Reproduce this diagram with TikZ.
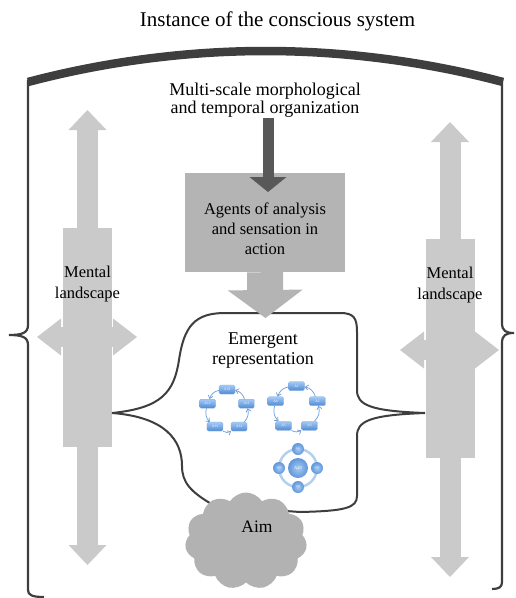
\documentclass[tikz,border=0pt]{standalone}
\usepackage{fontspec}
\setmainfont{Liberation Serif}
\usetikzlibrary{positioning,arrows.meta,shapes.symbols,calc}

\definecolor{landgray}{RGB}{202,202,202}
\definecolor{boxgray}{RGB}{180,180,180}
\definecolor{orgdark}{RGB}{88,88,88}
\definecolor{framegray}{RGB}{62,62,62}
\definecolor{cloudgray}{RGB}{178,178,178}
\definecolor{agtop}{RGB}{165,202,245}
\definecolor{agbot}{RGB}{78,138,212}
\definecolor{ringblue}{RGB}{180,208,240}

\tikzset{
  txt/.style={align=center, inner sep=0pt},
  frame/.style={draw=framegray, line width=2.2pt},
  landrect/.style={fill=landgray, minimum width=49pt, minimum height=219pt, inner sep=0pt},
  landarrow/.style={draw=landgray, line width=21pt,
    {Triangle[width=38pt,length=20pt,line width=0pt]}-{Triangle[width=38pt,length=20pt,line width=0pt]}},
  sidearrow/.style={draw=landgray, line width=20pt,
    {Triangle[width=37pt,length=24pt,line width=0pt]}-{Triangle[width=37pt,length=24pt,line width=0pt]}},
  orgarrow/.style={draw=orgdark, line width=11pt, -{Triangle[width=37pt,length=15pt,line width=0pt]}},
  grayarrow/.style={draw=boxgray, line width=36pt, -{Triangle[width=75pt,length=28pt,line width=0pt]}},
  agentbox/.style={fill=boxgray, minimum width=160pt, minimum height=99pt, inner sep=0pt},
  bubble/.style={draw=framegray, fill=white, line width=2pt},
  aimcloud/.style={cloud, cloud puffs=11, cloud puff arc=115, fill=cloudgray,
    minimum width=122pt, minimum height=97pt, inner sep=0pt},
  agent/.style={rounded corners=1.5pt, top color=agtop, bottom color=agbot, draw=agbot!70!white,
    line width=0.3pt, minimum width=16pt, minimum height=9pt, inner sep=0pt,
    text=white, font=\fontsize{3.5}{3.5}\selectfont},
  hub/.style={circle, inner color=agtop, outer color=agbot!90!white, minimum size=20pt, inner sep=0pt,
    text=white, font=\fontsize{4.5}{4.5}\selectfont},
  spoke/.style={hub, minimum size=12pt, font=\fontsize{2.5}{2.5}\selectfont},
  ring/.style={draw=ringblue, line width=2.5pt},
  cycarrow/.style={draw=agbot!85!white, line width=0.7pt, -{Straight Barb[length=3pt,width=5pt]}}
}

\begin{document}
\begin{tikzpicture}[x=1pt,y=-1pt]
\useasboundingbox (0,0) rectangle (515,598);

\node[txt, font=\fontsize{21}{25}\selectfont] (title) at (277.5,21) {Instance of the conscious system};

% outer frame
\draw[framegray, line width=8.5pt] (28,82) parabola bend (265.5,51) (503,82);
\draw[frame] (28,80) -- (28,325) .. controls (28,333) and (22,335) .. (9,335)
  .. controls (22,335) and (28,337) .. (28,345) -- (28,590)
  .. controls (28,595) and (32,597) .. (44,597);
\draw[frame] (502,80) -- (502,323) .. controls (502,331) and (506,333) .. (514,333)
  .. controls (506,333) and (502,335) .. (502,343) -- (502,582)
  .. controls (502,587) and (499,589) .. (492,589);

% mental landscapes
\node[landrect] (lland) at (87.5,337.5) {};
\node[landrect] (rland) at (450,348) {};
\draw[landarrow] (87.5,110) -- (87.5,565);
\draw[sidearrow] (37,337) -- (137,337);
\draw[landarrow] (450,122) -- (450,577);
\draw[sidearrow] (400,350) -- (499,350);
\node[txt, font=\fontsize{16.5}{21}\selectfont] (ltext) at (87.5,284.5) {Mental\\landscape};
\node[txt, font=\fontsize{16.5}{21}\selectfont] (rtext) at (450,285) {Mental\\landscape};

% emergent representation
\draw[bubble] (112,413) .. controls (162,408) and (174,392) .. (179,360)
  .. controls (184,326) and (195,313) .. (225,313)
  -- (340,313) .. controls (354,313) and (357,318) .. (357,332)
  -- (357,390) .. controls (357,405) and (370,411) .. (425,413)
  .. controls (370,415) and (357,421) .. (357,436)
  -- (357,496) .. controls (357,508) and (345,511) .. (300,512)
  -- (215,506) .. controls (190,492) and (182,482) .. (182,466)
  .. controls (182,440) and (165,417) .. cycle;
\node[txt, font=\fontsize{18}{20}\selectfont] (emerg) at (263,351) {Emergent\\representation};

% agents
\node[agentbox] (agents) at (265,222.5) {};
\node[txt, font=\fontsize{16.5}{20}\selectfont] (agtext) at (265,229) {Agents of analysis\\and sensation in\\action};
\node[txt, font=\fontsize{18}{18.5}\selectfont] (org) at (265,100) {Multi-scale morphological\\and temporal organization};
\coordinate (orgtip) at (268,192);
\draw[orgarrow] (orgtip |- org.south) -- (orgtip);
\coordinate (emtip) at (265.5,318);
\draw[grayarrow] (agents.south) -- (emtip);

% agent cycles
\coordinate (lcyc) at (227,410);
\coordinate (rcyc) at (296.5,408);
\foreach \ang/\lab in {270/A10,342/A11,54/A14,126/A13,198/A12}
  \node[agent] (\lab) at ($(lcyc)+(\ang:20.5)$) {\lab};
\foreach \ang/\lab in {270/A1,342/A2,54/A3,126/A5,198/A4}
  \node[agent] (\lab) at ($(rcyc)+(\ang:22)$) {\lab};
\foreach \a/\b in {A10/A12,A12/A13,A13/A14,A14/A11,A11/A10,A1/A4,A4/A5,A5/A3,A3/A2,A2/A1}
  \draw[cycarrow] (\a) to[bend right=30] (\b);

\coordinate (hubc) at (298,468);
\draw[ring] (hubc) circle[radius=19];
\node[hub] (A20) at (hubc) {A20};
\foreach \ang/\lab in {270/A21,0/A22,90/A23,180/A24}
  \node[spoke] (\lab) at ($(hubc)+(\ang:19)$) {\lab};

% aim
\node[aimcloud] (aim) at (246,541) {};
\node[txt, font=\fontsize{17.5}{20}\selectfont] (aimtext) at (257,527) {Aim};
\end{tikzpicture}
\end{document}
